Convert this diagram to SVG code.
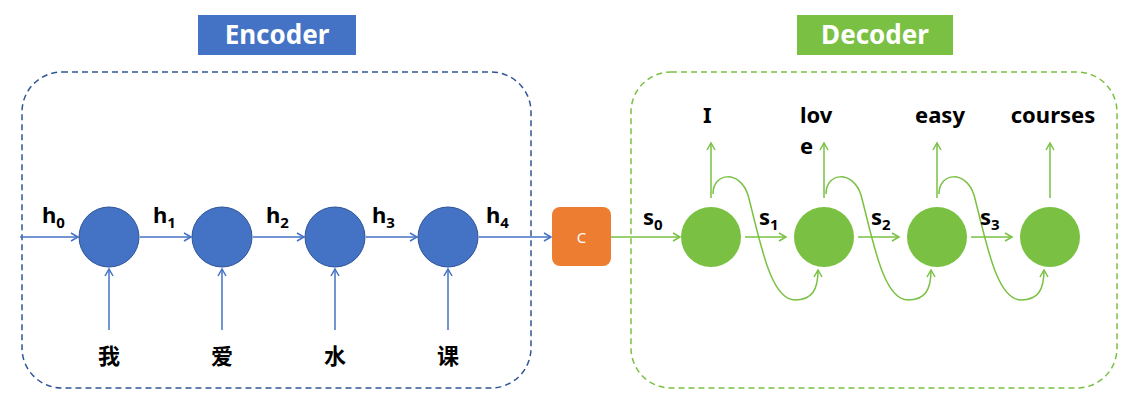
<svg xmlns="http://www.w3.org/2000/svg" width="1141" height="404" viewBox="0 0 1141 404">
<defs>
<marker id="ab" markerWidth="10" markerHeight="10" refX="8" refY="5" orient="auto" markerUnits="userSpaceOnUse"><path d="M1,1 L8,5 L1,9" fill="none" stroke="#4472C4" stroke-width="1.5"/></marker>
<marker id="ag" markerWidth="10" markerHeight="10" refX="8" refY="5" orient="auto" markerUnits="userSpaceOnUse"><path d="M1,1 L8,5 L1,9" fill="none" stroke="#7AC143" stroke-width="1.5"/></marker>
</defs>
<style>
.t{font-family:"Noto Sans","Liberation Sans",sans-serif;font-weight:bold;font-size:22px;fill:#000}
.c{font-family:"Noto Sans CJK SC",sans-serif;font-weight:bold;font-size:22px;fill:#000;text-anchor:middle}
.bl{stroke:#4472C4;stroke-width:1.5;fill:none;marker-end:url(#ab)}
.gl{stroke:#7AC143;stroke-width:1.5;fill:none;marker-end:url(#ag)}
.bc{fill:#4472C4;stroke:#2F5597;stroke-width:1}
.gc{fill:#7AC143}
</style>
<rect x="22" y="72" width="509" height="316" rx="40" fill="none" stroke="#2F5597" stroke-width="1.5" stroke-dasharray="6,4"/>
<rect x="631" y="72" width="486" height="316" rx="40" fill="none" stroke="#7AC143" stroke-width="1.5" stroke-dasharray="6,4"/>
<g id="enc-title"><rect x="198" y="15" width="158" height="40" fill="#4472C4"/><text x="277" y="44" text-anchor="middle" font-family="Noto Sans,Liberation Sans,sans-serif" font-weight="bold" font-size="26" fill="#fff">Encoder</text></g>
<g id="dec-title"><rect x="797" y="15" width="156" height="40" fill="#7AC143"/><text x="875" y="44" text-anchor="middle" font-family="Noto Sans,Liberation Sans,sans-serif" font-weight="bold" font-size="26" fill="#fff">Decoder</text></g>
<g id="connectors">
<path class="bl" d="M20,237 H78"/><path class="bl" d="M140,237 H191"/><path class="bl" d="M253,237 H304"/><path class="bl" d="M366,237 H417"/><path class="bl" d="M479,237 H551"/>
<path class="bl" d="M109,330 V269"/><path class="bl" d="M222,330 V269"/><path class="bl" d="M335,330 V269"/><path class="bl" d="M448,330 V269"/>
<path class="gl" d="M611,237 H680"/><path class="gl" d="M745,237 H786"/><path class="gl" d="M858,237 H899"/><path class="gl" d="M971,237 H1012"/>
<path class="gl" d="M711,198 V143"/><path class="gl" d="M824,198 V143"/><path class="gl" d="M937,198 V143"/><path class="gl" d="M1050,198 V143"/>
<path class="gl" d="M713,194 C713,172 740,170 748,195 C760,240 770,300 795,300 C812,300 818,290 818,270"/>
<path class="gl" d="M826,194 C826,172 853,170 861,195 C873,240 883,300 908,300 C925,300 931,290 931,270"/>
<path class="gl" d="M939,194 C939,172 966,170 974,195 C986,240 996,300 1021,300 C1038,300 1044,290 1044,270"/>
</g>
<g id="h0"><text class="t" x="42" y="223">h<tspan font-size="15" dy="5">0</tspan></text></g>
<g id="h1"><text class="t" x="153" y="223">h<tspan font-size="15" dy="5">1</tspan></text></g>
<g id="h2"><text class="t" x="266" y="223">h<tspan font-size="15" dy="5">2</tspan></text></g>
<g id="h3"><text class="t" x="372" y="223">h<tspan font-size="15" dy="5">3</tspan></text></g>
<g id="h4"><text class="t" x="486" y="223">h<tspan font-size="15" dy="5">4</tspan></text></g>
<g id="e1"><circle class="bc" cx="109" cy="237" r="30"/><text class="c" x="109" y="364">我</text></g>
<g id="e2"><circle class="bc" cx="222" cy="237" r="30"/><text class="c" x="222" y="364">爱</text></g>
<g id="e3"><circle class="bc" cx="335" cy="237" r="30"/><text class="c" x="335" y="364">水</text></g>
<g id="e4"><circle class="bc" cx="448" cy="237" r="30"/><text class="c" x="448" y="364">课</text></g>
<g id="C"><rect x="552" y="207" width="59" height="59" rx="8" fill="#ED7D31"/><text x="581.5" y="243" text-anchor="middle" font-family="Noto Sans,Liberation Sans,sans-serif" font-size="15" fill="#fff">C</text></g>
<g id="s0"><text class="t" x="643" y="225">s<tspan font-size="15" dy="5">0</tspan></text></g>
<g id="s1"><text class="t" x="759" y="225">s<tspan font-size="15" dy="5">1</tspan></text></g>
<g id="s2"><text class="t" x="871" y="225">s<tspan font-size="15" dy="5">2</tspan></text></g>
<g id="s3"><text class="t" x="980" y="225">s<tspan font-size="15" dy="5">3</tspan></text></g>
<g id="d1"><circle class="gc" cx="711" cy="237" r="30"/><text class="t" x="703" y="123">I</text></g>
<g id="d2"><circle class="gc" cx="824" cy="237" r="30"/><text class="t" x="800" y="123">lov</text><text class="t" x="800" y="154">e</text></g>
<g id="d3"><circle class="gc" cx="937" cy="237" r="30"/><text class="t" x="940" y="123" text-anchor="middle">easy</text></g>
<g id="d4"><circle class="gc" cx="1050" cy="237" r="30"/><text class="t" x="1053" y="123" text-anchor="middle">courses</text></g>
</svg>
